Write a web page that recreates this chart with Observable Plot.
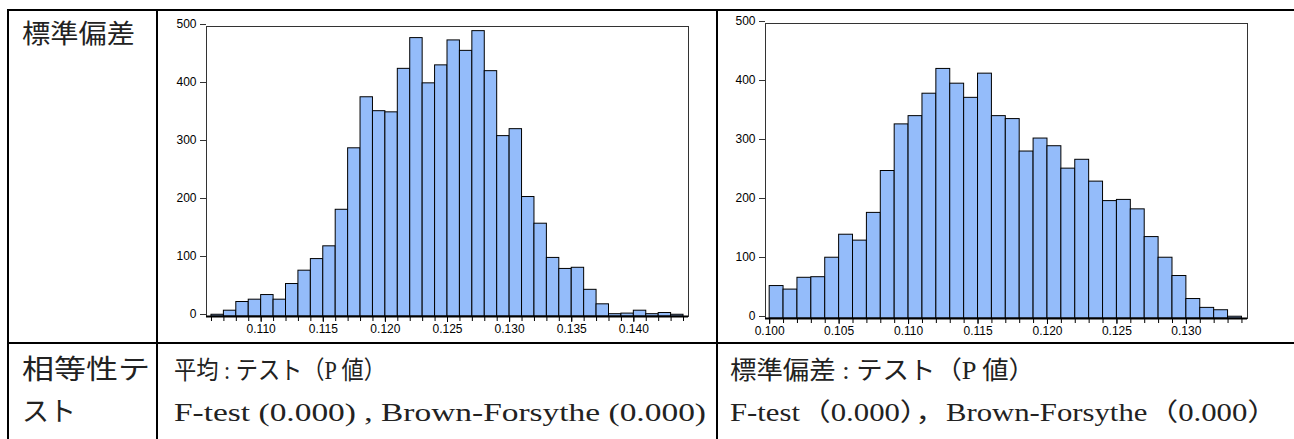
<!DOCTYPE html>
<html><head><meta charset="utf-8">
<script src="https://cdn.jsdelivr.net/npm/d3@7"></script>
<script src="https://cdn.jsdelivr.net/npm/@observablehq/plot@0.6"></script>
<style>
html,body{margin:0;padding:0;background:#fff}
body{width:1294px;height:439px;overflow:hidden;position:relative}
#c1{position:absolute;left:158px;top:11px}
#c2{position:absolute;left:719px;top:11px}
#table{position:absolute;left:0;top:0}
</style></head><body>
<svg id="table" width="1294" height="439"></svg>
<div id="c1"></div>
<div id="c2"></div>
<script>
// ---- data ----
const binWidth = 0.001;
const binStart1 = [0.106,0.107,0.108,0.109,0.110,0.111,0.112,0.113,0.114,0.115,0.116,0.117,0.118,0.119,0.120,0.121,0.122,0.123,0.124,0.125,0.126,0.127,0.128,0.129,0.130,0.131,0.132,0.133,0.134,0.135,0.136,0.137,0.138,0.139,0.140,0.141,0.142,0.143];
const counts1 = [3,10,25,29,37,29,56,79,99,121,184,290,378,354,352,427,480,402,433,476,458,492,423,311,323,206,160,101,82,84,46,21,4,5,10,4,6,3];
const binStart2 = [0.100,0.101,0.102,0.103,0.104,0.105,0.106,0.107,0.108,0.109,0.110,0.111,0.112,0.113,0.114,0.115,0.116,0.117,0.118,0.119,0.120,0.121,0.122,0.123,0.124,0.125,0.126,0.127,0.128,0.129,0.130,0.131,0.132,0.133];
const counts2 = [55,49,69,70,103,142,132,179,250,329,343,381,423,398,374,415,343,338,283,305,292,254,269,232,199,201,185,138,103,72,33,18,14,3];
const xLabels1 = [0.110,0.115,0.120,0.125,0.130,0.135,0.140];
const xLabels2 = [0.100,0.105,0.110,0.115,0.120,0.125,0.130];
const yTicks = [0,100,200,300,400,500];
const rowHeader = "標準偏差";
const testHeader = ["相等性テ","スト"];
const testTitles = ["平均 : テスト（P 値）","標準偏差 : テスト（P 値）"];
const testResults = ["F-test (0.000) , Brown-Forsythe (0.000)","F-test（0.000），Brown-Forsythe（0.000）"];

const toRows = (starts, counts) => starts.map((s,i)=>({x1:s, x2:s+binWidth, n:counts[i]}));
const edges = starts => starts.concat([starts[starts.length-1]+binWidth]);

function hist(starts, counts, labels, opts){
  return Plot.plot({
    width: opts.width, height: opts.height,
    marginLeft: opts.ml, marginRight: opts.mr, marginTop: opts.mt, marginBottom: opts.mb,
    x: {domain: opts.xdomain},
    y: {domain: [0,500]},
    style: {fontFamily: "'Liberation Sans', Arial, sans-serif", fontSize: "12px", color: "#000", background: "transparent", overflow: "visible"},
    marks: [
      Plot.rectY(toRows(starts, counts), {x1:"x1", x2:"x2", y:"n", fill:"#94bcfa", stroke:"#000", strokeWidth:1}),
      Plot.frame({stroke:"#333", strokeWidth:1}),
      Plot.ruleY([0], {stroke:"#000", strokeWidth:2}),
      Plot.axisY({ticks: yTicks, tickSize: 6, tickPadding: 4, label: null, dy: -2, stroke:"#333", fontSize: 12}),
      Plot.axisX({ticks: edges(starts), tickSize: 5, tickFormat: () => "", label: null, stroke:"#000"}),
      Plot.axisX({ticks: labels, tickSize: 6, tickPadding: 2, tickFormat: d3.format(".3f"), label: null, stroke:"#000", fontSize: 12})
    ]
  });
}

document.getElementById("c1").appendChild(hist(binStart1, counts1, xLabels1, {
  width: 557, height: 330, ml: 48, mr: 27, mt: 15, mb: 25, xdomain: [0.1056, 0.1444]
}));
document.getElementById("c2").appendChild(hist(binStart2, counts2, xLabels2, {
  width: 575, height: 330, ml: 46, mr: 47, mt: 12, mb: 23, xdomain: [0.0997, 0.1344]
}));

// ---- table frame and texts ----
const svg = d3.select("#table");
const lines = [
  [7,10,1294,10],[8,9,8,439],[157,9,157,439],[717,9,717,439],[7,343,1294,343]
];
svg.selectAll("line").data(lines).join("line")
  .attr("x1",d=>d[0]).attr("y1",d=>d[1]).attr("x2",d=>d[2]).attr("y2",d=>d[3])
  .attr("stroke","#000").attr("stroke-width",2);
const font = "'Liberation Serif','Noto Sans CJK JP',serif";
const texts = [
  {t: rowHeader, x: 22, y: 34, size: 26, len: 113},
  {t: testHeader[0], x: 22, y: 370, size: 27, len: 128},
  {t: testHeader[1], x: 22, y: 412, size: 27, len: null},
  {t: testTitles[0], x: 174, y: 370, size: 25, len: 212},
  {t: testResults[0], x: 174, y: 412, size: 25, len: 532},
  {t: testTitles[1], x: 730, y: 370, size: 25, len: 305},
  {t: testResults[1], x: 730, y: 412, size: 25, len: 548}
];
texts.forEach(d => {
  const el = svg.append("text").attr("x", d.x).attr("y", d.y)
    .attr("dominant-baseline","central")
    .attr("font-family", font).attr("font-size", d.size).attr("fill","#222").text(d.t);
  if (d.len) el.attr("textLength", d.len).attr("lengthAdjust","spacingAndGlyphs");
});
</script>
</body></html>
